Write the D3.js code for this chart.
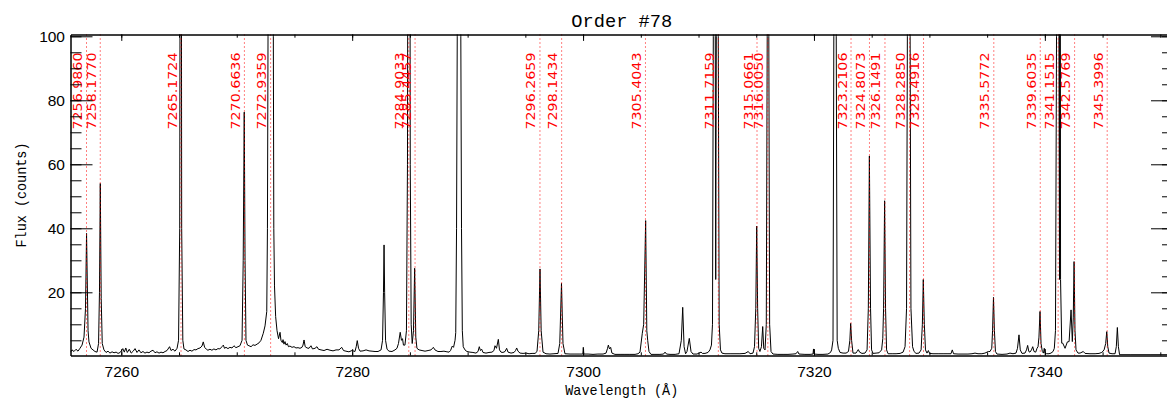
<!DOCTYPE html>
<html><head><meta charset="utf-8">
<script src="https://cdn.jsdelivr.net/npm/d3@7"></script>
<style>body{margin:0;background:#fff} svg{display:block}</style>
</head><body><svg id="c" width="1167" height="400"></svg>
<script>
// ---- data ----
const wave = [
7255.60,7255.73,7255.90,7256.08,7256.25,7256.42,7256.60,7256.77,7256.90,7256.99,7257.12,7257.20,7257.38,7257.55,7257.72,7257.90,
7258.03,7258.11,7258.18,7258.26,7258.35,7258.50,7258.68,7258.85,7259.02,7259.20,7259.37,7259.55,7259.72,7259.90,
7260.13,7260.26,7260.39,7260.52,7260.69,7260.86,7261.03,7261.19,7261.36,7261.53,7261.70,7261.88,7262.05,7262.22,7262.40,7262.57,
7262.75,7262.92,7263.09,7263.27,7263.44,7263.61,7263.79,7263.96,7264.18,7264.31,7264.48,7264.65,7264.83,
7264.96,7265.06,7265.16,7265.23,7265.33,7265.43,
7265.60,7265.78,7265.95,7266.12,7266.30,7266.47,7266.64,7266.82,7266.99,7267.10,7267.22,7267.37,7267.50,7267.68,7267.85,
7268.02,7268.20,7268.37,7268.54,7268.72,7268.84,7268.94,7269.07,7269.24,7269.41,7269.59,7269.76,7269.93,7270.11,7270.28,
7270.46,7270.56,7270.65,7270.72,7270.80,7270.93,7271.06,7271.24,7271.41,7271.58,7271.76,7271.93,7272.10,7272.30,7272.45,
7272.60,7272.66,7272.71,7272.75,7272.92,7273.10,7273.17,7273.21,7273.27,7273.37,7273.49,7273.62,7273.75,7273.83,7273.95,
7274.01,7274.09,7274.18,7274.27,7274.38,7274.48,7274.61,7274.79,7274.96,7275.13,7275.31,7275.48,7275.65,7275.74,7275.83,
7275.93,7276.09,7276.26,7276.43,7276.56,7276.78,7276.95,7277.08,7277.30,7277.56,7277.82,7278.08,7278.34,7278.60,7278.86,
7279.09,7279.25,7279.46,7279.72,7279.98,7280.24,7280.35,7280.44,7280.55,7280.68,7280.94,7281.20,7281.46,7281.72,7281.98,
7282.24,7282.50,7282.63,7282.71,7282.76,7282.81,7282.89,7283.02,7283.19,7283.45,7283.71,7283.88,7284.01,7284.16,7284.27,
7284.36,7284.44,7284.57,7284.70,7284.79,7284.92,7285.03,7285.11,7285.20,7285.31,7285.41,7285.51,7285.61,7285.79,7286.05,
7286.31,7286.57,7286.83,7287.03,7287.17,7287.43,7287.69,7287.95,7288.21,7288.39,7288.52,7288.67,7288.78,7288.91,7288.97,
7289.04,7289.10,7289.25,7289.41,7289.47,7289.54,7289.62,7289.77,7289.94,7290.20,7290.46,7290.72,7290.90,7291.01,7291.11,
7291.22,7291.33,7291.59,7291.85,7292.11,7292.28,7292.37,7292.50,7292.66,7292.76,7292.89,7293.06,7293.24,7293.38,7293.50,
7293.76,7294.02,7294.15,7294.25,7294.36,7294.54,7294.80,7295.06,7295.32,7295.58,7295.84,7296.01,7296.16,7296.27,7296.37,
7296.53,7296.79,7297.13,7297.48,7297.83,7297.98,7298.13,7298.26,7298.43,7298.87,7299.30,7299.73,7299.98,7300.02,7300.06,
7300.43,7300.86,7301.29,7301.73,7301.99,7302.12,7302.19,7302.29,7302.39,7302.50,7302.76,7303.20,7303.63,7304.06,7304.50,
7304.76,7304.93,7305.13,7305.25,7305.42,7305.52,7305.60,7305.71,7305.88,7306.23,7306.66,7306.97,7307.10,7307.23,7307.53,
7307.97,7308.31,7308.51,7308.63,7308.75,7308.88,7309.00,7309.20,7309.35,7309.52,7309.87,7310.04,7310.22,7310.34,7310.56,
7310.82,7310.99,7311.12,7311.21,7311.28,7311.33,7311.45,7311.49,7311.54,7311.62,7311.71,7311.79,7311.90,7312.03,7312.29,
7312.73,7313.16,7313.59,7314.03,7314.31,7314.46,7314.72,7314.85,7314.96,7315.04,7315.12,7315.21,7315.32,7315.45,7315.56,
7315.65,7315.76,7315.87,7315.95,7316.02,7316.09,7316.16,7316.28,7316.45,7316.88,7317.32,7317.75,7318.18,7318.44,7318.59,
7318.70,7319.22,7319.66,7319.92,7319.96,7320.00,7320.35,7320.78,7321.21,7321.43,7321.53,7321.65,7321.72,7321.82,7321.93,
7322.01,7322.11,7322.26,7322.52,7322.78,7322.99,7323.11,7323.18,7323.26,7323.38,7323.64,7323.73,7323.84,7323.95,7324.16,
7324.42,7324.60,7324.71,7324.80,7324.90,7324.99,7325.12,7325.38,7325.64,7325.86,7325.96,7326.03,7326.12,7326.20,7326.29,
7326.42,7326.77,7327.11,7327.46,7327.72,7327.89,7328.02,7328.09,7328.21,7328.33,7328.40,7328.54,7328.67,7328.84,7329.10,
7329.28,7329.39,7329.47,7329.56,7329.66,7329.79,7329.91,7330.01,7330.31,7330.75,7331.18,7331.61,7331.87,7331.98,7332.09,
7332.48,7332.91,7333.34,7333.69,7333.95,7334.21,7334.55,7334.81,7335.10,7335.25,7335.40,7335.47,7335.55,7335.63,7335.72,
7335.85,7336.29,7336.72,7336.98,7337.24,7337.50,7337.63,7337.76,7337.87,7338.02,7338.28,7338.41,7338.51,7338.61,7338.71,
7338.84,7338.95,7339.06,7339.21,7339.32,7339.41,7339.49,7339.58,7339.67,7339.78,7339.88,7339.95,7340.01,7340.16,7340.36,
7340.53,7340.71,7340.82,7340.92,7341.01,7341.11,7341.22,7341.27,7341.30,7341.36,7341.46,7341.55,7341.75,7341.95,7342.10,
7342.27,7342.38,7342.46,7342.53,7342.61,7342.70,7342.87,7343.05,7343.33,7343.48,7343.91,7344.35,7344.69,7344.93,7345.13,
7345.27,7345.36,7345.45,7345.56,7345.82,7346.08,7346.19,7346.28,7346.37,7346.47,7347.38,7349.11,7351.10
];
const flux = [
1.3,2.0,1.5,2.2,1.6,2.5,3.5,6,15,38.4,8,4.5,2.5,2,1.5,1.3,
4,20,54,18,4,2,1.2,1.6,1.0,1.4,1.1,1.3,0.9,1.2,
2.4,1.3,2.6,1.2,2.2,1.0,1.6,2.4,1.2,2.0,1.1,1.5,1.0,1.3,1.1,1.6,
1.9,1.1,1.4,1.0,1.3,1.1,1.5,1.8,3.0,1.8,2.2,1.6,2.5,
5,40,300,40,5,2.3,
2.0,1.5,1.9,1.6,2.1,2.0,2.4,2.6,3.2,4.5,2.8,2.2,1.9,2.2,1.9,
2.3,2.0,2.4,2.3,3.0,3.5,2.5,2.8,2.4,2.8,2.6,3.3,2.7,3.0,3.3,
5,30,76.3,30,5,3.5,3.3,3.0,3.6,3.4,3.8,4.2,5.0,7.2,9.5,
14,40,100,200,600,200,100,40,22,12.4,8,5.5,7.5,5,4.3,
5.2,3.8,4.6,3.5,4.0,3.0,3.2,2.8,3.0,2.6,2.7,2.5,2.8,3.5,5.1,
3.0,2.6,2.5,3.3,2.3,2.5,3.0,2.2,2.0,1.8,2.2,1.9,1.7,2.0,2.0,
2.8,1.8,1.6,1.4,1.8,1.5,3,4.9,2.5,1.6,1.7,2.0,1.7,1.6,1.5,
1.5,2.0,5,20,34.8,20,5,2.2,1.6,1.5,2.0,2.5,4,7.5,5,
5.5,3.5,3.5,8,60,400,60,10,4,8,27.5,6,2.5,2.0,1.8,
1.6,1.8,2.0,2.8,2.0,1.5,1.5,1.6,1.4,1.3,1.8,3.2,2.8,5,7.4,
40,100,500,100,40,8,3,2.0,1.5,1.3,1.2,1.0,1.5,3.0,1.8,
2.2,1.2,1.0,1.2,1.3,1.8,3.3,2.5,5.3,2.0,1.3,1.2,1.5,2.5,1.3,
1.0,1.2,1.8,2.6,1.6,1.0,0.9,1.0,0.8,0.9,0.9,1.5,8,27.3,8,
1.3,0.8,0.7,0.8,0.9,4,22.8,4,0.8,0.7,0.7,0.7,0.7,2.8,0.7,
0.7,0.6,0.7,0.7,1.0,2.5,3.5,2.3,2.8,1.0,0.6,0.6,0.6,0.6,0.6,
0.8,1.3,7.2,10,42.4,8,4.9,1.5,0.6,0.6,0.6,0.7,1.3,0.7,0.6,
0.6,0.8,5,15.3,3,0.8,1.5,5.6,1.5,0.7,0.7,1.0,1.3,0.9,0.9,
1.2,2.0,3.5,10,100,300,100,24,100,300,100,10,2,1.0,0.8,
0.8,0.8,0.8,0.9,1.5,0.8,1.0,3,15,40.7,15,2.5,1.5,3,9.3,
2.5,2,10,100,300,100,10,1.5,0.7,0.6,0.6,0.6,0.7,0.8,1.5,
0.7,0.6,0.6,0.7,2.3,0.7,0.6,0.6,0.7,1.2,2.0,5,100,300,100,
5,2.5,1.2,1.0,1.0,1.5,5,10.3,5,1.0,1.0,1.5,2.1,1.3,0.9,
1.0,2,15,62.6,15,2,0.9,1.0,1.1,2,5.5,15,48.6,15,2,
0.8,0.8,0.8,0.9,1.3,3,15,100,300,100,15,3,1.5,0.9,1.0,
2,10,24,10,2,1.0,1.8,0.9,0.8,0.8,0.8,0.8,0.8,2.0,0.8,
0.7,0.7,0.7,0.8,1.0,0.8,0.8,1.0,1.5,1.5,2.5,8,18.4,8,1.5,
0.7,0.6,0.7,1.0,0.8,1.0,2.5,6.7,2,0.9,1.0,2,3.4,1.5,1.3,
2,3.0,1.5,1.3,2.5,3,6,14,4,1.5,1.0,2.5,1.0,0.8,0.8,
1.0,1.5,2.5,8,100,400,100,24,300,24,4.1,4.1,2.5,4.5,4.6,
14.5,4.6,12,29.6,8,2,1.0,1.0,1.5,0.9,0.8,0.8,0.9,1.2,2,
4,7.7,3,1,0.8,0.8,3,9,3,0.5,0.5,0.5,0.5
];
const lineWaves = [7256.9860,7258.1770,7265.1724,7270.6636,7272.9359,7284.9033,7285.4457,7296.2659,7298.1434,7305.4043,
  7311.7159,7315.0661,7316.0050,7323.2106,7324.8073,7326.1491,7328.2850,7329.4916,7335.5772,7339.6035,7341.1515,7342.5769,7345.3996];
const lineLabels = ["7256.9860","7258.1770","7265.1724","7270.6636","7272.9359","7284.9033","7285.4457","7296.2659","7298.1434","7305.4043",
  "7311.7159","7315.0661","7316.0050","7323.2106","7324.8073","7326.1491","7328.2850","7329.4916","7335.5772","7339.6035","7341.1515","7342.5769","7345.3996"];
const xMajorTicks = [7260,7280,7300,7320,7340];
const xMinorTicks = [7260,7265,7270,7275,7280,7285,7290,7295,7300,7305,7310,7315,7320,7325,7330,7335,7340,7345,7350];
const yMajorTicks = [20,40,60,80,100];
const yMinorTicks = [5,10,15,20,25,30,35,40,45,50,55,60,65,70,75,80,85,90,95,100];
const titleText = "Order #78";
const xTitle = "Wavelength (Å)";
const yTitle = "Flux (counts)";

// ---- layout ----
const L = 70.5, R = 1173, T = 34.5, B = 355.5;
const svg = d3.select("#c");
const x = d3.scaleLinear().domain([7255.6, 7351.1]).range([L, R]);
const y = d3.scaleLinear().domain([0.25, 100.56]).range([B, T]);

svg.append("defs").append("clipPath").attr("id","clip")
  .append("rect").attr("x",L).attr("y",T).attr("width",R-L).attr("height",B-T);

// spectrum
const idx = d3.range(wave.length);
svg.append("path")
  .attr("clip-path","url(#clip)")
  .attr("d", d3.line().x(i => x(wave[i])).y(i => y(flux[i]))(idx))
  .attr("fill","none").attr("stroke","#000").attr("stroke-width",1).attr("stroke-linejoin","round");

// reference lines
const lg = svg.append("g");
lg.selectAll("line").data(lineWaves).join("line")
  .attr("x1", d => x(d)).attr("x2", d => x(d))
  .attr("y1", T).attr("y2", B)
  .attr("stroke","#ff0000").attr("stroke-width",1).attr("stroke-dasharray","1,3");
lg.selectAll("text").data(lineWaves).join("text")
  .attr("transform", d => `translate(${x(d)-4.5},129.5) rotate(-90)`)
  .attr("font-family","'DejaVu Sans', 'Liberation Sans', sans-serif")
  .attr("font-size",11.5)
  .attr("textLength",77).attr("lengthAdjust","spacingAndGlyphs")
  .attr("fill","#ff0000")
  .text((d,i) => lineLabels[i]);

// axes
const axStyle = g => { g.select(".domain").attr("stroke","#000"); g.selectAll(".tick line").attr("stroke","#000"); };
const noLab = () => "";
svg.append("g").attr("transform",`translate(0,${B})`)
  .call(d3.axisBottom(x).tickValues(xMinorTicks).tickSize(-3.2).tickSizeOuter(0).tickFormat(noLab)).call(axStyle);
svg.append("g").attr("transform",`translate(0,${B})`)
  .call(d3.axisBottom(x).tickValues(xMajorTicks).tickSize(-6.4).tickSizeOuter(0).tickFormat(d3.format("d")))
  .call(axStyle)
  .call(g => g.selectAll(".tick text").attr("y",21.8).attr("dy",0)
     .attr("font-family","'Liberation Sans', Arial, sans-serif").attr("font-size",15.5).attr("fill","#000"));
svg.append("g").attr("transform",`translate(0,${T})`)
  .call(d3.axisTop(x).tickValues(xMinorTicks).tickSize(-3.2).tickSizeOuter(0).tickFormat(noLab)).call(axStyle);
svg.append("g").attr("transform",`translate(0,${T})`)
  .call(d3.axisTop(x).tickValues(xMajorTicks).tickSize(-6.4).tickSizeOuter(0).tickFormat(noLab)).call(axStyle);

svg.append("g").attr("transform",`translate(${L},0)`)
  .call(d3.axisLeft(y).tickValues(yMinorTicks).tickSize(-11).tickSizeOuter(0).tickFormat(noLab)).call(axStyle);
svg.append("g").attr("transform",`translate(${L},0)`)
  .call(d3.axisLeft(y).tickValues(yMajorTicks).tickSize(-22).tickSizeOuter(0).tickFormat(d3.format("d")))
  .call(axStyle)
  .call(g => g.selectAll(".tick text").attr("x",-5.5).attr("dy","0.36em")
     .attr("font-family","'Liberation Sans', Arial, sans-serif").attr("font-size",15.5).attr("fill","#000"));
svg.append("g").attr("transform",`translate(${R},0)`)
  .call(d3.axisRight(y).tickValues(yMinorTicks).tickSize(-11).tickSizeOuter(0).tickFormat(noLab)).call(axStyle);
svg.append("g").attr("transform",`translate(${R},0)`)
  .call(d3.axisRight(y).tickValues(yMajorTicks).tickSize(-22).tickSizeOuter(0).tickFormat(noLab)).call(axStyle);
svg.selectAll(".domain").attr("stroke-width",1);

// titles
svg.append("text").attr("x",(L+R)/2).attr("y",26.5).attr("text-anchor","middle")
  .attr("font-family","'Liberation Mono', 'DejaVu Sans Mono', monospace").attr("font-size",19)
  .attr("textLength",101).attr("lengthAdjust","spacingAndGlyphs").text(titleText);
svg.append("text").attr("x",(L+R)/2).attr("y",395).attr("text-anchor","middle")
  .attr("font-family","'Liberation Mono', 'DejaVu Sans Mono', monospace").attr("font-size",15)
  .attr("textLength",113).attr("lengthAdjust","spacingAndGlyphs").text(xTitle);
svg.append("text").attr("transform",`translate(26,${(T+B)/2}) rotate(-90)`).attr("text-anchor","middle")
  .attr("font-family","'Liberation Mono', 'DejaVu Sans Mono', monospace").attr("font-size",15)
  .attr("textLength",105).attr("lengthAdjust","spacingAndGlyphs").text(yTitle);
</script></body></html>
